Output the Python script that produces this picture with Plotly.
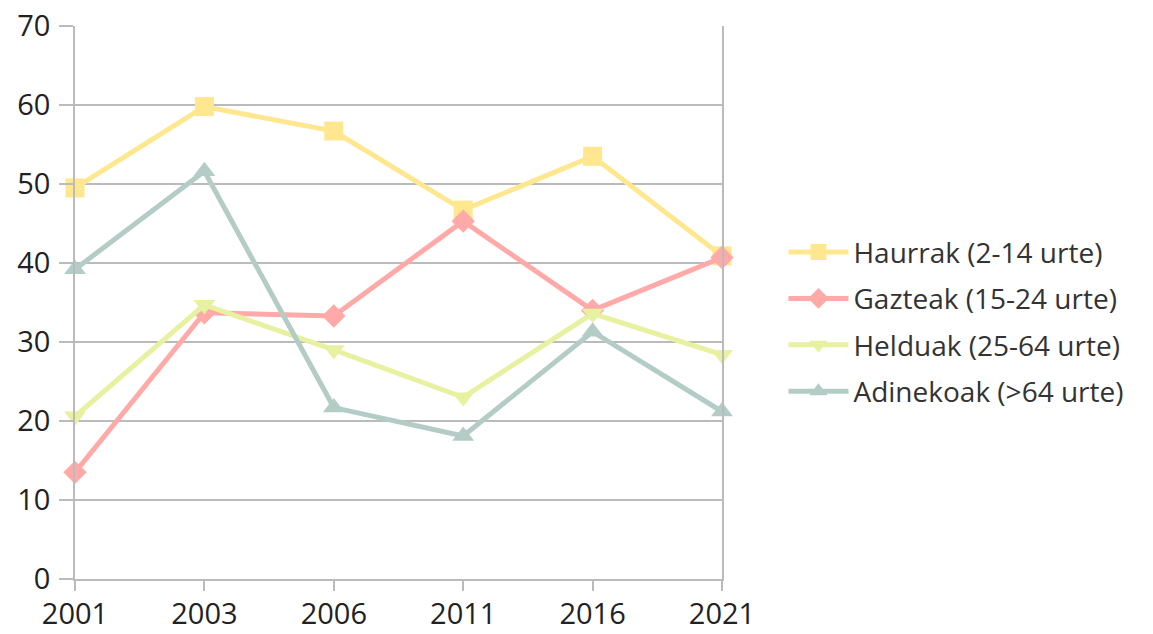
import plotly.graph_objects as go

years = ["2001", "2003", "2006", "2011", "2016", "2021"]
haurrak = [49.5, 59.8, 56.7, 46.7, 53.5, 40.9]
gazteak = [13.5, 33.7, 33.3, 45.3, 34.0, 40.7]
helduak = [20.6, 34.7, 29.0, 23.0, 33.6, 28.4]
adinekoak = [39.2, 51.6, 21.7, 18.1, 31.3, 21.2]

series = [
    ("Haurrak (2-14 urte)", haurrak, "#FFE790", "square", 19),
    ("Gazteak (15-24 urte)", gazteak, "#FFA9A9", "diamond", 18),
    ("Helduak (25-64 urte)", helduak, "#E7F1A0", "triangle-down", 19),
    ("Adinekoak (>64 urte)", adinekoak, "#B4CCC6", "triangle-up", 19),
]

fig = go.Figure()
for i, (name, vals, color, sym, size) in enumerate(series):
    fig.add_trace(go.Scatter(
        x=years, y=vals, name=name, mode="lines+markers",
        line=dict(color=color, width=5),
        marker=dict(symbol=sym, size=size, color=color),
        cliponaxis=False, legendgroup=f"g{i}",
    ))

font = "Open Sans, Noto Sans, sans-serif"
fig.update_layout(
    width=1145, height=626,
    margin=dict(l=67, r=431, t=18, b=55, autoexpand=False),
    plot_bgcolor="white", paper_bgcolor="white",
    font=dict(family=font, color="#222222"),
    showlegend=True,
    legend=dict(x=1.095, y=0.465, xanchor="left", yanchor="middle",
                font=dict(size=28, color="#333333"), tracegroupgap=7,
                itemwidth=60, bgcolor="rgba(0,0,0,0)"),
    xaxis=dict(type="category", range=[0, 5], showgrid=False, automargin=False,
               showline=True, linecolor="#BBBBBB", linewidth=1.5,
               ticks="outside", ticklen=10, tickcolor="#BBBBBB", tickwidth=1.5,
               tickfont=dict(size=29, color="#222222"), zeroline=False,
               ticklabeloverflow="allow", ticklabelstandoff=-2),
    yaxis=dict(range=[0, 70], dtick=10, showgrid=True, gridcolor="#BBBBBB",
               gridwidth=1.5, showline=True, mirror=True, linecolor="#BBBBBB",
               linewidth=1.5, ticks="outside", ticklen=14, tickcolor="#BBBBBB",
               tickwidth=1.5, tickfont=dict(size=29, color="#222222"),
               ticklabelstandoff=3, automargin=False, zeroline=False,
               ticklabeloverflow="allow"),
)
fig.write_html("out.html")
